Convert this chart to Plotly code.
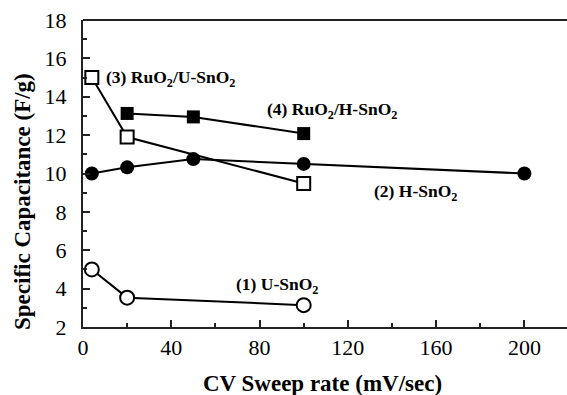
import plotly.graph_objects as go

# Data
x_u = [4, 20, 100]
y_u = [5.0, 3.53, 3.14]

x_h = [4, 20, 50, 100, 200]
y_h = [10.0, 10.32, 10.75, 10.5, 10.0]

x_ru_u = [4, 20, 100]
y_ru_u = [15.0, 11.9, 9.48]

x_ru_h = [20, 50, 100]
y_ru_h = [13.13, 12.95, 12.08]

x_ticks = [0, 40, 80, 120, 160, 200]
y_ticks = [2, 4, 6, 8, 10, 12, 14, 16, 18]

labels = [
    ("(1) U-SnO<sub>2</sub>", 277, 285),
    ("(2) H-SnO<sub>2</sub>", 415, 192),
    ("(3) RuO<sub>2</sub>/U-SnO<sub>2</sub>", 170, 78),
    ("(4) RuO<sub>2</sub>/H-SnO<sub>2</sub>", 332, 110),
]

W, H = 567, 395
ML, MT, MB, MR = 83, 20, 68, 0

fig = go.Figure()
line = dict(color="black", width=2)
fig.add_trace(go.Scatter(x=x_u, y=y_u, mode="lines+markers", line=line,
                         marker=dict(symbol="circle", size=14, color="white",
                                     line=dict(color="black", width=2))))
fig.add_trace(go.Scatter(x=x_ru_h, y=y_ru_h, mode="lines+markers", line=line,
                         marker=dict(symbol="square", size=13, color="black",
                                     line=dict(color="black", width=0))))
fig.add_trace(go.Scatter(x=x_ru_u, y=y_ru_u, mode="lines+markers", line=line,
                         marker=dict(symbol="square", size=13, color="white",
                                     line=dict(color="black", width=2))))
fig.add_trace(go.Scatter(x=x_h, y=y_h, mode="lines+markers", line=line,
                         marker=dict(symbol="circle", size=14, color="black",
                                     line=dict(color="black", width=0))))

serif = "Liberation Serif"

for text, px, py in labels:
    fig.add_annotation(text="<b>" + text + "</b>", xref="paper", yref="paper",
                       x=(px - ML) / (W - ML - MR), y=1 - (py - MT) / (H - MT - MB),
                       showarrow=False, xanchor="center", yanchor="middle",
                       font=dict(family=serif, size=17.5, color="black"))

# axis titles
fig.add_annotation(text="<b>CV Sweep rate (mV/sec)</b>", xref="paper", yref="paper",
                   x=(322 - ML) / (W - ML - MR), y=1 - (383 - MT) / (H - MT - MB),
                   showarrow=False, xanchor="center", yanchor="middle",
                   font=dict(family=serif, size=23, color="black"))
fig.add_annotation(text="<b>Specific Capacitance (F/g)</b>", xref="paper", yref="paper",
                   x=(22 - ML) / (W - ML - MR), y=1 - (202 - MT) / (H - MT - MB),
                   showarrow=False, xanchor="center", yanchor="middle", textangle=-90,
                   font=dict(family=serif, size=23, color="black"))

axis_common = dict(showline=True, linecolor="#222", linewidth=2, ticks="inside",
                   tickcolor="#222", tickwidth=1.5, ticklen=7, showgrid=False,
                   zeroline=False, tickfont=dict(family=serif, size=22, color="black"))

fig.update_xaxes(range=[0, 219.3], tickvals=x_ticks, mirror=False,
                 minor=dict(dtick=20, tick0=0, ticks="inside", ticklen=4,
                            tickcolor="#222", tickwidth=1.5),
                 **axis_common)
fig.update_yaxes(range=[2, 18], tickvals=y_ticks,
                 minor=dict(dtick=1, tick0=0, ticks="inside", ticklen=4,
                            tickcolor="#222", tickwidth=1.5),
                 ticklabelstandoff=10, **axis_common)

# top border line
fig.add_shape(type="line", xref="paper", yref="paper", x0=0, x1=1, y0=1, y1=1,
              line=dict(color="#222", width=2))

fig.update_layout(width=W, height=H, margin=dict(l=ML, r=MR, t=MT, b=MB),
                  plot_bgcolor="white", paper_bgcolor="white", showlegend=False,
                  font=dict(family=serif))

fig.write_html("out.html")
